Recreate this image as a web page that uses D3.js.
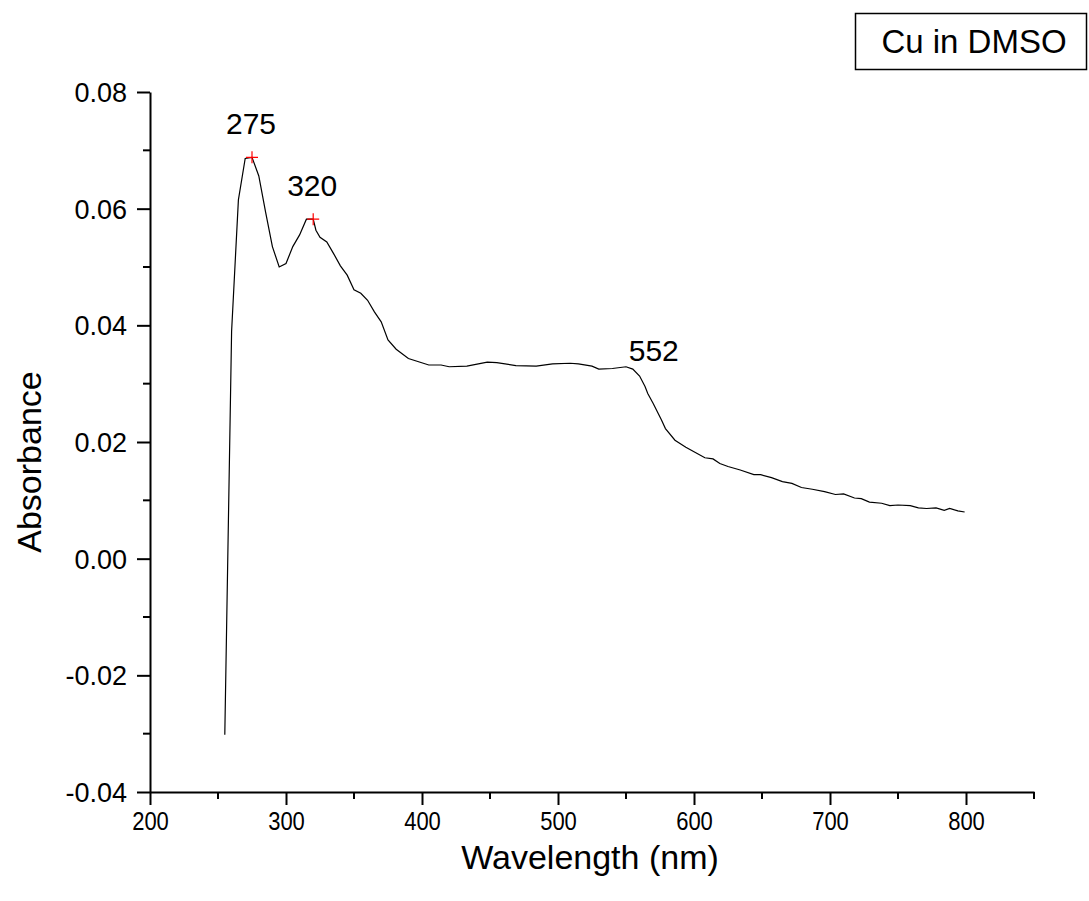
<!DOCTYPE html>
<html>
<head>
<meta charset="utf-8">
<script src="https://cdn.jsdelivr.net/npm/d3@7"></script>
<style>
  html, body { margin: 0; padding: 0; background: #fff; }
  svg { display: block; }
  text { font-family: Arial, "Liberation Sans", sans-serif; fill: #000; }
</style>
</head>
<body>
<svg id="chart" width="1089" height="901"></svg>
<script>
// ---- data ----
const wavelength = [255,260,265,270,275,280,285,290,295,300,305,310,315,320,322,325,330,335,340,345,350,355,360,365,370,375,381,390,405,414,420,433,448,455,469,484,496,509,515,525,530,540,550,555,560,564,566,570,576,579,586,594,601,608,614,619,625,634,644,649,657,665,672,679,687,696,704,710,718,723,729,738,744,750,759,765,771,778,784,788,794,799];
const absorbance = [-0.0302,0.0390,0.0615,0.0686,0.0688,0.0656,0.0594,0.0535,0.0500,0.0506,0.0535,0.0555,0.0582,0.0582,0.0563,0.0551,0.0543,0.0523,0.0502,0.0486,0.0461,0.0455,0.0443,0.0423,0.0406,0.0375,0.0359,0.0343,0.0332,0.0332,0.0329,0.0330,0.0337,0.0336,0.0331,0.0330,0.0334,0.0335,0.0334,0.0330,0.0325,0.0326,0.0329,0.0325,0.0313,0.0295,0.0283,0.0266,0.0238,0.0223,0.0203,0.0191,0.0182,0.0173,0.0171,0.0163,0.0158,0.0152,0.0144,0.0144,0.0139,0.0132,0.0129,0.0122,0.0119,0.0115,0.0110,0.0111,0.0104,0.0103,0.0097,0.0095,0.0091,0.0092,0.0091,0.0087,0.0086,0.0087,0.0083,0.0086,0.0082,0.0080];

const peakX = [275, 320];
const peakY = [0.0688, 0.0582];
const labelText = ["275", "320", "552"];
const labelX = [275, 320, 552];

const xTicks = [200,300,400,500,600,700,800];
const xMinor = [250,350,450,550,650,750,850];
const yTicks = [-0.04,-0.02,0.00,0.02,0.04,0.06,0.08];
const yMinor = [-0.03,-0.01,0.01,0.03,0.05,0.07];
const xDomain = [200, 850];
const yDomain = [-0.04, 0.08];
const legendLabel = "Cu in DMSO";
const xTitle = "Wavelength (nm)";
const yTitle = "Absorbance";

// ---- layout ----
const svg = d3.select("#chart");
const x = d3.scaleLinear().domain(xDomain).range([150, 1034]);
const y = d3.scaleLinear().domain(yDomain).range([792, 92]);
const yFmt = v => d3.format(".2f")(v).replace("\u2212", "-");

// x axis
const xAxis = svg.append("g").attr("transform", `translate(0,${y(yDomain[0])})`)
  .call(d3.axisBottom(x).tickValues(xTicks).tickFormat(d3.format("d")).tickSize(13).tickSizeOuter(0).tickPadding(6));
xAxis.selectAll(".tick text")
  .style("font-size", "25px")
  .attr("y", null).attr("dy", null)
  .attr("transform", "translate(0,38) scale(0.88,1)");
xAxis.append("g").selectAll("line").data(xMinor).join("line")
  .attr("x1", d => x(d)).attr("x2", d => x(d)).attr("y1", 0).attr("y2", 7)
  .attr("stroke", "#000").attr("stroke-width", 2);

// y axis
const yAxis = svg.append("g").attr("transform", `translate(${x(xDomain[0])},0)`)
  .call(d3.axisLeft(y).tickValues(yTicks).tickFormat(yFmt).tickSize(13).tickSizeOuter(0).tickPadding(10));
yAxis.selectAll(".tick text").style("font-size", "27px").attr("dy", "0.35em");
yAxis.append("g").selectAll("line").data(yMinor).join("line")
  .attr("y1", d => y(d)).attr("y2", d => y(d)).attr("x1", 0).attr("x2", -7)
  .attr("stroke", "#000").attr("stroke-width", 2);

svg.selectAll(".domain").attr("stroke", "#000").attr("stroke-width", 2);
svg.selectAll(".tick line").attr("stroke", "#000").attr("stroke-width", 2);

// curve
const pts = wavelength.map((w, i) => [w, absorbance[i]]);
svg.append("path").datum(pts)
  .attr("fill", "none").attr("stroke", "#000").attr("stroke-width", 1.2)
  .attr("d", d3.line().x(d => x(d[0])).y(d => y(d[1])));

// peak markers
peakX.forEach((px, i) => {
  const cx = x(px), cy = y(peakY[i]);
  svg.append("path").attr("d", `M${cx-6},${cy}H${cx+6}M${cx},${cy-6}V${cy+6}`)
    .attr("stroke", "#ff0000").attr("stroke-width", 1.2).attr("fill", "none");
});

// labels (anchored to their peak wavelength, placed above the curve)
const labelOffset = [[-1, -23], [-1, -23], [0, -6]];
const labelAnchor = ["middle", "middle", "start"];
const labelBaseY = [peakY[0], peakY[1], 0.0329];
labelText.forEach((t, i) => {
  svg.append("text")
    .attr("x", x(labelX[i]) + labelOffset[i][0])
    .attr("y", y(labelBaseY[i]) + labelOffset[i][1])
    .attr("text-anchor", labelAnchor[i]).style("font-size", "30px").text(t);
});

// axis titles
svg.append("text").attr("x", 590).attr("y", 869).attr("text-anchor", "middle")
  .style("font-size", "34px").text(xTitle);
svg.append("text").attr("transform", "translate(41,462) rotate(-90)").attr("text-anchor", "middle")
  .style("font-size", "34px").text(yTitle);

// legend box
svg.append("rect").attr("x", 855.5).attr("y", 13.5).attr("width", 231).attr("height", 56)
  .attr("fill", "#fff").attr("stroke", "#000").attr("stroke-width", 1.5);
svg.append("text").attr("x", 974).attr("y", 53).attr("text-anchor", "middle")
  .style("font-size", "33px").text(legendLabel);
</script>
</body>
</html>
